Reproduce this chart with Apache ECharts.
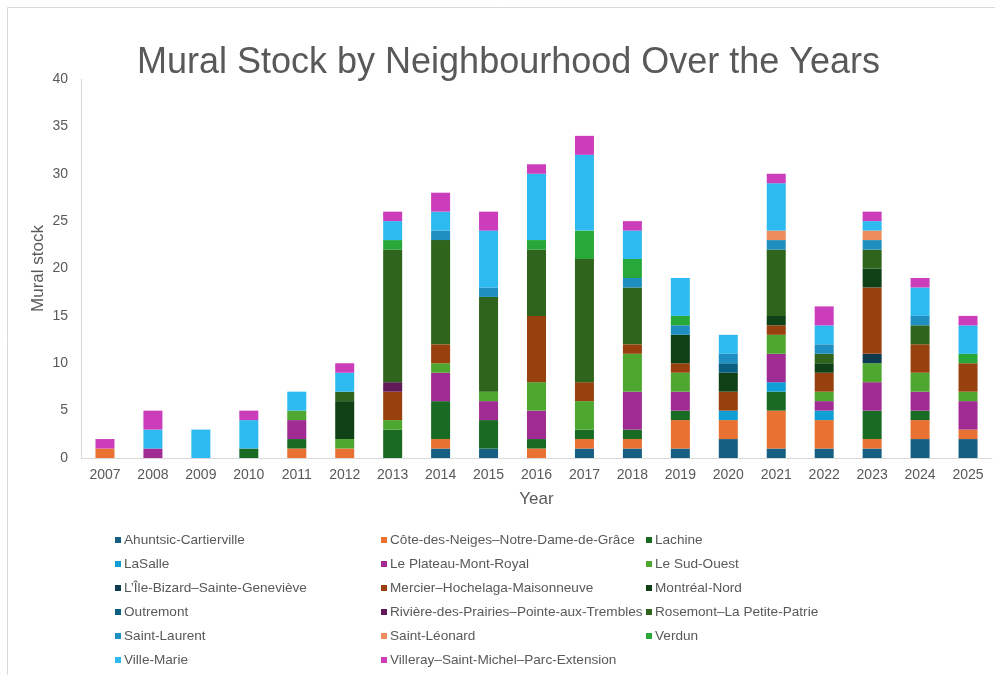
<!DOCTYPE html>
<html>
<head>
<meta charset="utf-8">
<title>Mural Stock by Neighbourhood Over the Years</title>
<script src="https://cdn.jsdelivr.net/npm/echarts@6/dist/echarts.min.js"></script>
<style>
  html, body { margin: 0; padding: 0; background: #ffffff; }
  #chart { width: 995px; height: 675px; }
</style>
</head>
<body>
<div id="chart"></div>
<script>
// Years on the category axis
const years = ['2007','2008','2009','2010','2011','2012','2013','2014','2015','2016',
               '2017','2018','2019','2020','2021','2022','2023','2024','2025'];

// Borough names, in stacking order (bottom to top)
const boroughs = [
  'Ahuntsic-Cartierville',
  'Côte-des-Neiges–Notre-Dame-de-Grâce',
  'Lachine',
  'LaSalle',
  'Le Plateau-Mont-Royal',
  'Le Sud-Ouest',
  'L\u2019Île-Bizard–Sainte-Geneviève',
  'Mercier–Hochelaga-Maisonneuve',
  'Montréal-Nord',
  'Outremont',
  'Rivière-des-Prairies–Pointe-aux-Trembles',
  'Rosemont–La Petite-Patrie',
  'Saint-Laurent',
  'Saint-Léonard',
  'Verdun',
  'Ville-Marie',
  'Villeray–Saint-Michel–Parc-Extension'
];

// Murals per borough per year (2007 … 2025)
const ahuntsic      = [0,0,0,0,0,0,0,1,1,0,1,1,1,2,1,1,1,2,2];
const coteDesNeiges = [1,0,0,0,1,1,0,1,0,1,1,1,3,2,4,3,1,2,1];
const lachine       = [0,0,0,1,1,0,3,4,3,1,1,1,1,0,2,0,3,1,0];
const laSalle       = [0,0,0,0,0,0,0,0,0,0,0,0,0,1,1,1,0,0,0];
const plateau       = [0,1,0,0,2,0,0,3,2,3,0,4,2,0,3,1,3,2,3];
const sudOuest      = [0,0,0,0,1,1,1,1,1,3,3,4,2,0,2,1,2,2,1];
const ileBizard     = [0,0,0,0,0,0,0,0,0,0,0,0,0,0,0,0,1,0,0];
const mercier       = [0,0,0,0,0,0,3,2,0,7,2,1,1,2,1,2,7,3,3];
const montrealNord  = [0,0,0,0,0,4,0,0,0,0,0,0,3,2,1,1,2,0,0];
const outremont     = [0,0,0,0,0,0,0,0,0,0,0,0,0,1,0,0,0,0,0];
const rdpPat        = [0,0,0,0,0,0,1,0,0,0,0,0,0,0,0,0,0,0,0];
const rosemont      = [0,0,0,0,0,1,14,11,10,7,13,6,0,0,7,1,2,2,0];
const saintLaurent  = [0,0,0,0,0,0,0,1,1,0,0,1,1,1,1,1,1,1,0];
const saintLeonard  = [0,0,0,0,0,0,0,0,0,0,0,0,0,0,1,0,1,0,0];
const verdun        = [0,0,0,0,0,0,1,0,0,1,3,2,1,0,0,0,0,0,1];
const villeMarie    = [0,2,3,3,2,2,2,2,6,7,8,3,4,2,5,2,1,3,3];
const villeray      = [1,2,0,1,0,1,1,2,2,1,2,1,0,0,1,2,1,1,1];

const seriesValues = [ahuntsic, coteDesNeiges, lachine, laSalle, plateau, sudOuest,
  ileBizard, mercier, montrealNord, outremont, rdpPat, rosemont,
  saintLaurent, saintLeonard, verdun, villeMarie, villeray];

// Y-axis ticks
const yTicks = [0,5,10,15,20,25,30,35,40];

// Palette: six accents, then darker and lighter variants
const palette = [
  '#156082','#E97132','#196B24','#0F9ED5','#A02B93','#4EA72E',
  '#0D3A4E','#99400F','#0F4016','#095F80','#601A58','#2F641C',
  '#1F8EC0','#ED8D5B','#27A838','#2DBAF0','#CB3DBB'
];

const textGrey = '#595959';
const fontFamily = '"Liberation Sans", Arial, Helvetica, sans-serif';

const chart = echarts.init(document.getElementById('chart'), null, { renderer: 'canvas' });

const series = boroughs.map((name, i) => ({
  name: name,
  type: 'bar',
  stack: 'total',
  data: seriesValues[i],
  barWidth: 19,
  itemStyle: { color: palette[i] },
  emphasis: { disabled: true }
}));

// Legend laid out in three columns, filled row by row
function column(c) {
  return boroughs.filter((_, i) => i % 3 === c);
}
const legendBase = {
  orient: 'vertical',
  top: 533,
  padding: 0,
  itemWidth: 6,
  itemHeight: 6,
  itemGap: 10,
  icon: 'rect',
  textStyle: { color: textGrey, fontSize: 13.6, fontFamily: fontFamily, padding: [0,0,0,-2] },
  selectedMode: false
};

chart.setOption({
  animation: false,
  color: palette,
  textStyle: { fontFamily: fontFamily },
  graphic: [{
    type: 'rect',
    shape: { x: 7.5, y: 7.5, width: 1000, height: 700 },
    style: { fill: 'none', stroke: '#d9d9d9', lineWidth: 1 },
    silent: true
  }],
  title: {
    text: 'Mural Stock by Neighbourhood Over the Years',
    left: 132,
    top: 40,
    textStyle: { color: textGrey, fontSize: 36, fontWeight: 'normal', fontFamily: fontFamily }
  },
  legend: [
    Object.assign({}, legendBase, { left: 115, data: column(0) }),
    Object.assign({}, legendBase, { left: 381, data: column(1) }),
    Object.assign({}, legendBase, { left: 646, data: column(2) })
  ],
  grid: { left: 81, right: 3, top: 79, bottom: 217, containLabel: false },
  xAxis: {
    type: 'category',
    data: years,
    name: 'Year',
    nameLocation: 'middle',
    nameGap: 33,
    nameTextStyle: { color: textGrey, fontSize: 17, fontFamily: fontFamily },
    axisLine: { lineStyle: { color: '#d9d9d9', width: 1 } },
    axisTick: { show: false },
    axisLabel: { color: textGrey, fontSize: 14, margin: 10, fontFamily: fontFamily }
  },
  yAxis: {
    type: 'value',
    min: yTicks[0],
    max: yTicks[yTicks.length - 1],
    interval: yTicks[1] - yTicks[0],
    name: 'Mural stock',
    nameLocation: 'middle',
    nameGap: 34,
    nameMoveOverlap: false,
    nameTextStyle: { color: textGrey, fontSize: 17, fontFamily: fontFamily },
    axisLine: { show: true, lineStyle: { color: '#d9d9d9', width: 1 } },
    axisTick: { show: false },
    splitLine: { show: false },
    axisLabel: { color: textGrey, fontSize: 14, margin: 13, fontFamily: fontFamily }
  },
  series: series
});
</script>
</body>
</html>
